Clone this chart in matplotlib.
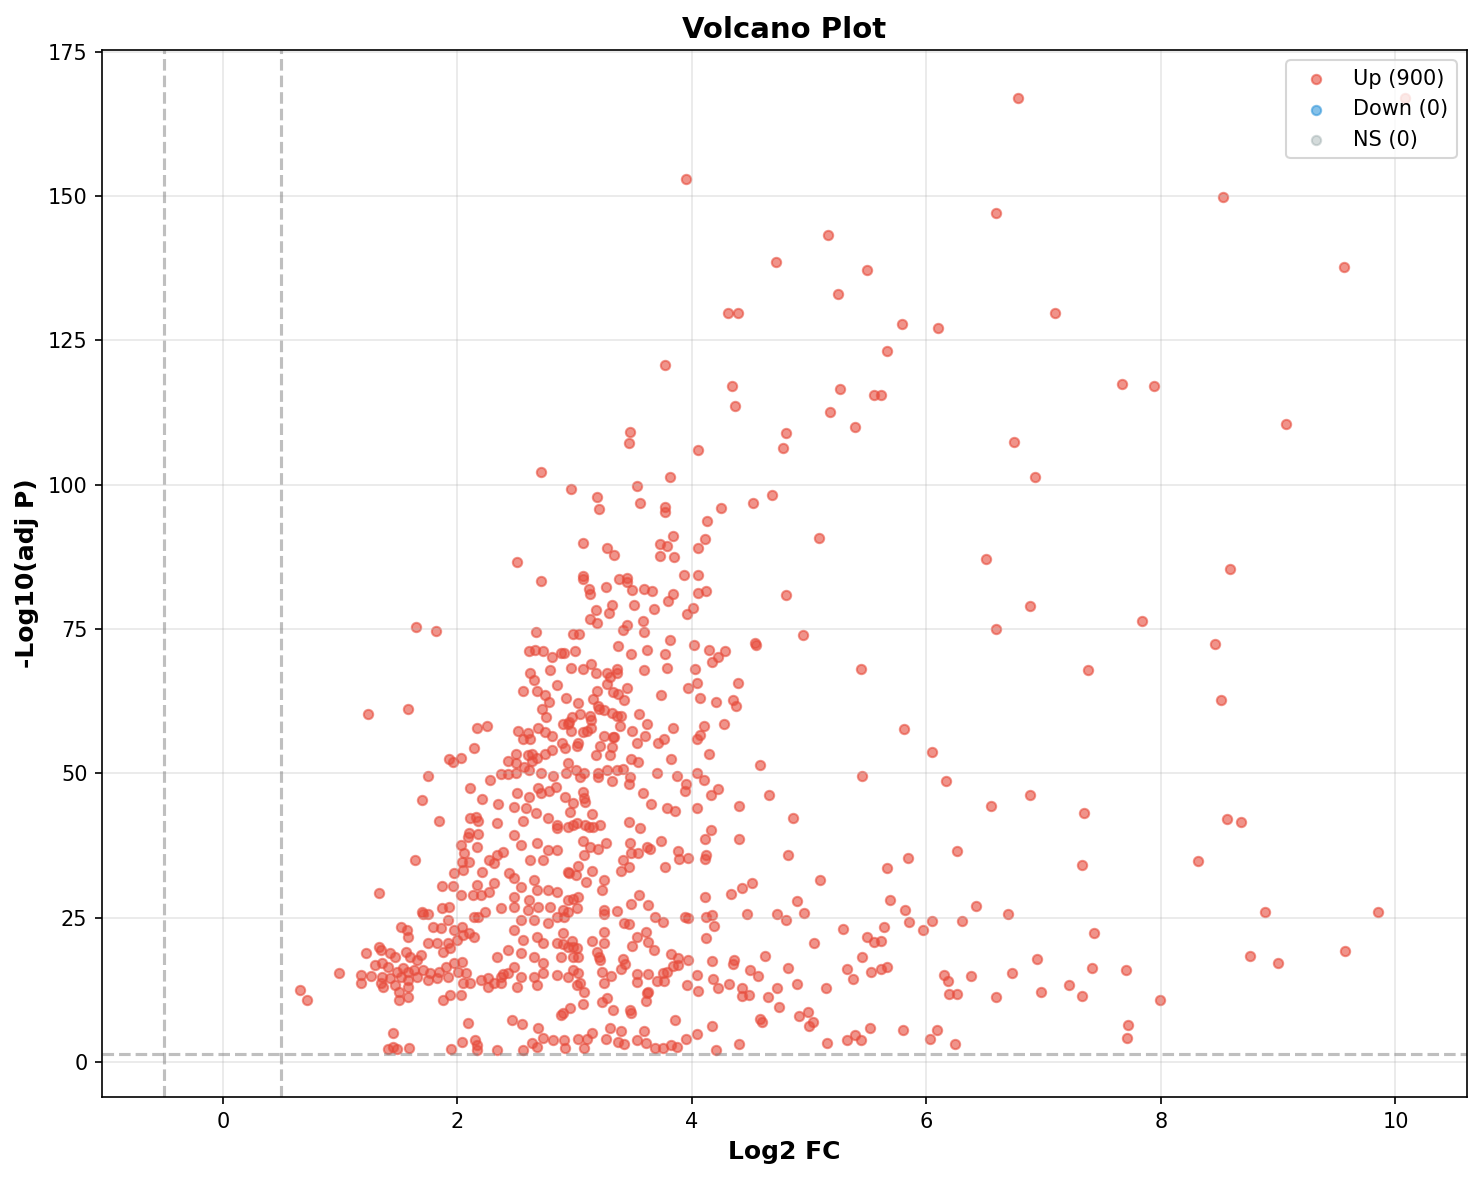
import matplotlib
matplotlib.use("Agg")
import matplotlib.pyplot as plt
import numpy as np

# (log2 fold change, -log10 adjusted p), grouped by region
up_high = [
    (6.78, 166.9), (10.08, 166.9), (3.95, 152.9), (8.53, 149.9), (6.59, 147.0), (5.16, 143.2),
    (4.72, 138.5), (5.49, 137.1), (9.56, 137.7), (5.25, 133.1), (4.31, 129.7), (4.39, 129.7),
    (7.10, 129.7), (5.79, 127.8), (6.10, 127.1), (5.66, 123.1), (3.77, 120.7), (4.34, 117.1),
    (7.67, 117.4), (7.94, 117.1), (5.26, 116.5), (5.55, 115.5), (5.61, 115.5), (4.37, 113.6),
    (5.18, 112.6), (9.07, 110.5), (5.39, 110.0), (3.47, 109.1), (3.46, 107.2), (4.80, 108.9),
    (6.75, 107.4), (4.78, 106.3), (4.05, 106.0), (2.71, 102.2), (3.81, 101.3), (6.93, 101.3),
    (3.53, 99.8), (2.97, 99.3), (4.68, 98.2), (3.19, 97.9), (4.52, 96.8), (3.56, 96.8),
    (3.77, 96.1), (4.25, 96.0), (3.21, 95.8), (3.77, 95.3), (4.13, 93.7), (3.84, 91.1),
    (5.08, 90.8), (4.11, 90.6), (3.07, 89.9), (3.73, 89.7), (3.79, 89.4), (4.05, 89.1),
    (3.28, 89.0), (3.34, 87.8), (3.73, 87.7), (3.85, 87.5), (6.51, 87.2), (2.51, 86.6),
    (8.59, 85.4),
]

up_upper_mid = [
    (3.93, 84.4), (4.05, 84.4), (2.71, 83.3), (3.07, 84.2), (3.07, 83.7), (3.38, 83.7),
    (3.45, 83.9), (3.45, 83.2), (3.12, 82.0), (3.13, 81.1), (3.27, 82.3), (3.49, 81.8),
    (3.59, 82.0), (3.66, 81.6), (3.84, 81.1), (3.80, 79.9), (4.05, 81.3), (4.12, 81.6),
    (4.80, 80.9), (3.18, 78.2), (3.29, 77.8), (3.32, 79.2), (3.51, 79.2), (3.68, 78.5),
    (3.13, 76.8), (3.19, 76.1), (3.41, 74.9), (3.45, 75.6), (3.58, 76.3), (3.59, 74.4),
    (3.81, 73.1), (3.96, 77.5), (4.01, 78.7), (4.02, 72.3), (1.65, 75.4), (1.82, 74.7),
    (7.84, 76.4), (6.59, 75.0), (6.88, 78.9), (2.67, 74.5), (2.99, 74.2), (3.04, 74.2),
    (4.95, 74.0), (4.54, 72.5), (4.55, 72.3), (8.46, 72.4), (2.61, 71.2), (2.66, 71.4),
    (2.73, 71.1), (2.81, 70.2), (2.88, 70.9), (2.91, 70.9), (3.00, 71.2), (3.37, 72.1),
    (3.48, 70.6), (3.62, 71.4), (3.77, 70.7), (3.79, 68.3), (3.59, 67.8), (4.03, 68.0),
    (4.15, 71.4), (4.22, 70.2), (4.17, 69.3), (4.28, 71.2), (5.44, 68.1), (7.38, 67.8),
    (2.79, 67.8), (2.97, 68.3), (3.07, 68.0), (3.14, 69.0), (3.18, 67.4), (3.28, 67.3),
    (3.30, 66.6), (3.36, 68.1), (3.36, 67.3), (2.62, 67.3), (2.65, 66.2), (2.85, 65.2),
    (4.04, 65.7), (4.39, 65.7), (3.97, 64.7), (4.07, 63.1), (4.21, 62.4), (4.35, 62.6),
    (4.38, 61.7), (8.51, 62.6), (2.56, 64.3), (2.68, 64.3), (2.75, 63.5), (2.78, 62.4),
    (2.93, 63.1), (3.03, 62.1), (3.19, 64.3), (3.28, 65.5), (3.33, 64.0), (3.37, 63.8),
    (3.45, 64.7), (3.42, 62.6), (3.16, 62.9), (3.20, 61.6), (3.25, 61.0), (3.74, 63.5),
    (1.24, 60.3), (1.58, 61.2),
]

up_mid = [
    (2.72, 61.2), (2.76, 59.7), (2.94, 58.6), (2.98, 59.7), (3.05, 60.3), (3.13, 60.0),
    (3.14, 59.3), (3.21, 61.2), (3.32, 60.5), (3.36, 60.0), (3.40, 60.0), (3.55, 60.3),
    (3.62, 58.6), (3.84, 57.8), (4.10, 58.1), (4.07, 56.7), (4.04, 55.9), (4.27, 58.6),
    (5.81, 57.7), (2.17, 57.9), (2.25, 58.1), (2.52, 57.4), (2.60, 56.9), (2.56, 55.9),
    (2.62, 56.0), (2.69, 57.9), (2.75, 57.1), (2.81, 56.5), (2.90, 58.6), (2.95, 58.8),
    (2.97, 57.4), (3.07, 57.1), (3.11, 57.4), (3.14, 57.8), (3.25, 56.5), (3.34, 56.2),
    (3.39, 58.1), (3.49, 57.4), (3.60, 56.5), (3.71, 55.3), (3.76, 56.0), (2.50, 53.4),
    (2.43, 52.2), (2.50, 51.7), (2.60, 53.1), (2.64, 53.4), (2.68, 52.6), (2.75, 53.4),
    (2.81, 54.0), (2.89, 55.2), (2.92, 54.3), (3.03, 55.2), (3.02, 54.8), (3.18, 53.1),
    (3.22, 54.8), (3.30, 53.1), (3.32, 54.5), (3.33, 56.2), (3.48, 52.4), (3.53, 55.2),
    (3.54, 51.9), (3.82, 52.4), (1.93, 52.4), (1.96, 51.9), (2.03, 52.7), (2.14, 54.3),
    (4.15, 53.3), (6.05, 53.6), (4.58, 51.5), (1.75, 49.5), (1.70, 45.3), (1.84, 41.7),
    (2.11, 47.4), (2.21, 45.5), (2.28, 48.9), (2.35, 44.6), (2.37, 49.8), (2.43, 49.8),
    (2.48, 44.1), (2.50, 50.1), (2.57, 51.0), (2.61, 50.5), (2.64, 52.2), (2.71, 50.1),
    (2.82, 49.6), (2.94, 51.7), (3.01, 50.5), (3.05, 49.3), (3.08, 50.0), (3.20, 49.3),
    (3.28, 50.5), (3.36, 50.5), (3.41, 50.8), (3.47, 49.3), (3.70, 50.0), (3.87, 49.6),
    (3.95, 48.2), (4.04, 50.0), (3.94, 46.9), (4.10, 48.8), (4.16, 46.3), (4.22, 47.2),
    (4.66, 46.3), (6.17, 48.6), (5.45, 49.5), (3.20, 50.0), (2.93, 50.0), (2.51, 46.5),
    (2.61, 45.8), (2.69, 47.4), (2.71, 46.5), (2.78, 47.0), (2.84, 47.6), (2.92, 45.8),
    (2.99, 44.8), (3.07, 46.7), (3.08, 45.7), (3.09, 45.0), (3.32, 48.6), (3.46, 48.2),
    (3.58, 46.5), (3.65, 44.6), (3.79, 43.9), (3.86, 43.4), (4.04, 43.9), (4.40, 44.3),
    (6.55, 44.3), (6.88, 46.3), (7.34, 43.1), (2.11, 42.2), (2.16, 42.4), (2.18, 41.8),
    (2.59, 43.9), (2.56, 41.8), (2.67, 43.1), (2.77, 42.2), (2.85, 41.0), (2.96, 43.2),
    (3.02, 41.3), (3.09, 41.0), (3.15, 43.0), (3.22, 41.0), (3.46, 41.5), (3.56, 40.5),
    (4.86, 42.2), (8.56, 42.0), (8.68, 41.5), (3.12, 40.6), (3.16, 40.6),
]

up_lower_mid = [
    (4.16, 40.1), (4.11, 38.6), (4.40, 38.6), (4.82, 35.8), (4.11, 35.1), (4.12, 35.8),
    (5.09, 31.5), (4.11, 28.5), (4.33, 29.1), (4.43, 30.1), (4.51, 31.0), (4.90, 27.8),
    (4.96, 25.8), (4.47, 25.6), (4.73, 25.6), (4.80, 24.6), (4.12, 25.1), (4.17, 25.4),
    (4.19, 23.5), (4.12, 21.4), (3.94, 25.1), (3.97, 24.9), (5.29, 23.0), (5.04, 20.6),
    (5.66, 33.5), (5.69, 28.0), (5.64, 23.3), (5.49, 21.6), (5.55, 20.7), (5.61, 20.9),
    (5.84, 35.4), (6.26, 36.6), (7.33, 34.1), (8.32, 34.8), (5.82, 26.3), (5.85, 24.2),
    (5.97, 22.8), (6.05, 24.4), (6.30, 24.4), (6.42, 27.0), (6.70, 25.6), (7.43, 22.3),
    (8.89, 25.9), (9.85, 25.9), (3.07, 38.2), (3.27, 37.9), (3.47, 37.9), (3.62, 37.3),
    (3.64, 36.8), (3.74, 38.2), (3.13, 37.3), (3.20, 36.8), (3.88, 36.5), (3.97, 35.4),
    (3.89, 35.1), (3.08, 35.8), (3.41, 34.9), (3.48, 36.1), (3.54, 36.1), (3.46, 33.7),
    (3.40, 33.0), (3.77, 33.7), (3.03, 33.9), (2.95, 32.7), (3.01, 32.3), (3.15, 33.0),
    (3.10, 31.1), (3.25, 31.5), (3.23, 29.7), (3.55, 28.9), (3.48, 27.3), (3.63, 27.1),
    (3.36, 26.1), (3.25, 26.3), (3.25, 25.6), (2.99, 28.2), (3.03, 28.5), (3.02, 26.6),
    (2.94, 25.9), (2.91, 25.1), (3.42, 24.0), (3.46, 23.9), (3.69, 25.1), (3.75, 24.2),
    (1.64, 34.9), (1.33, 29.2), (2.03, 37.5), (2.06, 36.1), (2.10, 34.6), (2.04, 34.6),
    (2.09, 38.9), (2.10, 39.6), (2.18, 39.4), (1.97, 32.7), (2.05, 33.2), (2.17, 37.2),
    (2.21, 32.9), (2.31, 34.4), (2.34, 35.8), (2.39, 36.3), (2.27, 34.9), (1.87, 30.4),
    (1.96, 30.4), (2.03, 28.9), (2.13, 28.9), (2.20, 28.9), (2.17, 30.6), (2.27, 29.4),
    (2.31, 31.0), (2.44, 32.7), (1.87, 26.6), (1.93, 26.8), (1.70, 25.9), (1.71, 25.6),
    (1.75, 25.6), (2.34, 41.3), (2.48, 39.3), (2.54, 37.5), (2.68, 37.9), (2.77, 36.7),
    (2.85, 40.5), (2.94, 40.6), (2.99, 41.0), (2.62, 34.9), (2.73, 34.9), (2.85, 36.7),
    (2.94, 32.9), (2.48, 31.8), (2.54, 30.3), (2.65, 31.5), (2.68, 29.7), (2.77, 29.7),
    (2.85, 29.4), (2.94, 28.0), (2.48, 28.5), (2.61, 28.0), (2.69, 26.8), (2.79, 26.8),
    (2.90, 26.3), (2.37, 26.6), (2.48, 26.8), (2.54, 24.6), (2.60, 26.3), (2.65, 24.6),
    (2.77, 24.0), (2.85, 25.1),
]

up_low = [
    (1.52, 23.3), (1.57, 22.8), (1.58, 21.6), (1.79, 23.3), (1.86, 23.2), (1.92, 24.6),
    (1.97, 22.8), (2.04, 23.3), (2.10, 22.3), (2.14, 21.6), (1.75, 20.6), (1.83, 20.6),
    (1.92, 20.6), (1.94, 19.7), (1.88, 19.0), (2.00, 21.1), (2.05, 22.0), (2.14, 25.1),
    (2.18, 25.1), (2.24, 25.9), (1.22, 18.8), (1.33, 19.9), (1.35, 19.4), (1.43, 18.8),
    (1.47, 18.2), (1.56, 19.0), (1.60, 18.2), (1.66, 17.6), (1.69, 18.5), (1.30, 16.8),
    (1.36, 17.1), (1.41, 16.4), (1.49, 15.6), (1.54, 16.3), (1.58, 15.6), (1.63, 15.9),
    (1.71, 15.9), (1.77, 15.4), (1.84, 15.6), (1.90, 16.4), (1.97, 17.1), (2.04, 17.3),
    (1.18, 15.0), (1.26, 14.9), (1.36, 14.7), (1.43, 14.5), (1.52, 14.7), (1.58, 14.2),
    (1.66, 14.7), (1.75, 14.2), (1.83, 14.5), (1.92, 14.7), (2.01, 15.6), (2.07, 15.4),
    (1.18, 13.7), (1.35, 13.7), (1.37, 13.0), (1.47, 13.3), (1.58, 13.0), (0.66, 12.4),
    (0.72, 10.7), (0.99, 15.4), (1.50, 12.1), (1.50, 10.7), (1.58, 11.2), (1.88, 10.7),
    (1.94, 11.6), (2.03, 11.6), (2.05, 13.7), (2.11, 13.7), (2.20, 14.2), (2.26, 14.5),
    (2.31, 13.7), (2.37, 14.7), (2.39, 15.2), (2.90, 22.3), (2.99, 19.9), (2.48, 22.8),
    (2.56, 21.1), (2.68, 21.6), (2.73, 20.6), (2.85, 20.6), (2.94, 19.9), (2.43, 19.4),
    (2.54, 18.8), (2.65, 18.2), (2.73, 17.1), (2.88, 18.2), (2.99, 15.9), (2.48, 16.4),
    (2.34, 18.2), (2.43, 15.4), (2.54, 14.7), (2.65, 14.7), (2.73, 15.4), (2.85, 15.0),
    (2.94, 14.7), (2.26, 13.0), (2.37, 13.7), (2.51, 13.0), (2.68, 13.3), (3.02, 13.3),
    (3.61, 22.5), (3.63, 20.8), (3.68, 19.4), (3.53, 21.6), (3.49, 20.1), (3.25, 22.5),
    (3.25, 20.6), (3.15, 20.9), (3.19, 19.0), (3.21, 18.2), (3.22, 17.6), (2.98, 20.9),
    (2.90, 20.4), (3.02, 19.7), (2.99, 18.2), (3.03, 18.2), (3.82, 18.7), (3.88, 18.0),
    (3.88, 16.8), (3.84, 16.6), (3.97, 17.6), (3.41, 17.8), (3.43, 16.9), (3.40, 16.1),
    (3.53, 15.2), (3.63, 15.2), (3.75, 15.4), (3.79, 15.6), (3.70, 14.0), (3.76, 14.0),
    (3.31, 14.9), (3.23, 15.6), (3.03, 15.4), (3.05, 13.7), (3.08, 12.1), (3.25, 13.7),
    (3.53, 13.8), (3.62, 11.9), (3.61, 10.5), (3.63, 12.1), (3.28, 11.1), (3.23, 10.4),
    (3.07, 10.0), (3.33, 9.0), (3.47, 9.0), (3.48, 8.5), (2.96, 9.3), (2.90, 8.5),
    (4.17, 17.5), (4.36, 17.6), (4.35, 16.9), (4.62, 18.3), (4.50, 15.9), (4.56, 14.9),
    (4.82, 16.3), (5.32, 16.1), (5.37, 14.4), (4.18, 14.4), (4.22, 12.8), (4.04, 15.0),
    (3.96, 13.3), (4.05, 12.3), (4.32, 13.5), (4.43, 12.8), (4.49, 11.6), (4.43, 11.4),
    (4.65, 11.2), (4.73, 12.8), (4.90, 13.5), (5.14, 12.8), (5.45, 18.2), (5.61, 16.1),
    (5.66, 16.4), (5.53, 15.6), (6.94, 17.8), (6.15, 15.0), (6.18, 14.0), (6.19, 11.8),
    (6.26, 11.8), (6.38, 14.9), (6.59, 11.2), (6.73, 15.4), (6.98, 12.1), (7.22, 13.3),
    (7.33, 11.4), (7.41, 16.3), (7.70, 15.9), (8.76, 18.3), (9.00, 17.1), (9.57, 19.2),
    (7.99, 10.7), (7.72, 6.4), (7.71, 4.1),
]

up_bottom = [
    (4.74, 9.5), (4.91, 8.0), (4.99, 8.6), (5.03, 6.9), (5.00, 6.2), (4.58, 7.4),
    (4.60, 6.9), (4.17, 6.2), (4.04, 4.8), (4.40, 3.1), (4.21, 2.1), (3.86, 7.3),
    (3.95, 4.0), (5.15, 3.3), (5.32, 3.8), (5.39, 4.7), (5.44, 3.8), (5.52, 5.9),
    (5.80, 5.5), (6.03, 4.0), (6.09, 5.5), (6.24, 3.1), (3.30, 5.9), (3.40, 5.4),
    (3.59, 5.4), (3.15, 5.0), (2.91, 3.8), (3.03, 4.0), (3.11, 4.0), (3.27, 4.0),
    (3.37, 3.5), (3.42, 3.1), (3.53, 3.8), (3.61, 3.3), (3.69, 2.4), (3.75, 2.4),
    (3.82, 2.9), (3.87, 2.6), (2.92, 2.4), (3.08, 2.4), (2.09, 6.7), (1.45, 5.0),
    (1.41, 2.2), (1.45, 2.6), (1.49, 2.2), (1.59, 2.4), (1.95, 2.2), (2.04, 3.5),
    (2.15, 3.8), (2.17, 2.9), (2.17, 2.1), (2.34, 2.1), (2.56, 2.1), (2.64, 3.3),
    (2.68, 2.6), (2.47, 7.3), (2.55, 6.6), (2.69, 5.9), (2.73, 4.2), (2.82, 3.8),
    (2.88, 8.1),
]

up_points = up_high + up_upper_mid + up_mid + up_lower_mid + up_low + up_bottom
up_fc = np.array([p[0] for p in up_points])
up_p = np.array([p[1] for p in up_points])

# no significant down / non-significant genes in this dataset
down_fc, down_p = [], []
ns_fc, ns_p = [], []

n_up, n_down, n_ns = 900, 0, 0
fc_threshold = 0.5
p_threshold = 0.05

fig = plt.figure(figsize=(9.88, 7.867), dpi=150)
ax = fig.add_subplot(111)
fig.subplots_adjust(left=0.0688, right=0.9899, bottom=0.0703, top=0.9576)

ax.scatter(up_fc, up_p, c='#e74c3c', s=20, alpha=0.6, label=f'Up ({n_up})')
ax.scatter(down_fc, down_p, c='#3498db', s=20, alpha=0.6, label=f'Down ({n_down})')
ax.scatter(ns_fc, ns_p, c='#95a5a6', s=20, alpha=0.4, label=f'NS ({n_ns})')

ax.axhline(-np.log10(p_threshold), color='gray', linestyle='--', alpha=0.5, linewidth=1.5)
ax.axvline(fc_threshold, color='gray', linestyle='--', alpha=0.5, linewidth=1.5)
ax.axvline(-fc_threshold, color='gray', linestyle='--', alpha=0.5, linewidth=1.5)

ax.set_xlim(-1.03, 10.61)
ax.set_ylim(-6.1, 175.3)
ax.set_xlabel('Log2 FC', fontsize=12, fontweight='bold')
ax.set_ylabel('-Log10(adj P)', fontsize=12, fontweight='bold')
ax.set_title('Volcano Plot', fontsize=14, fontweight='bold')
ax.legend(loc='upper right')
ax.grid(True, alpha=0.3)

fig.savefig('out.png', dpi=150)
